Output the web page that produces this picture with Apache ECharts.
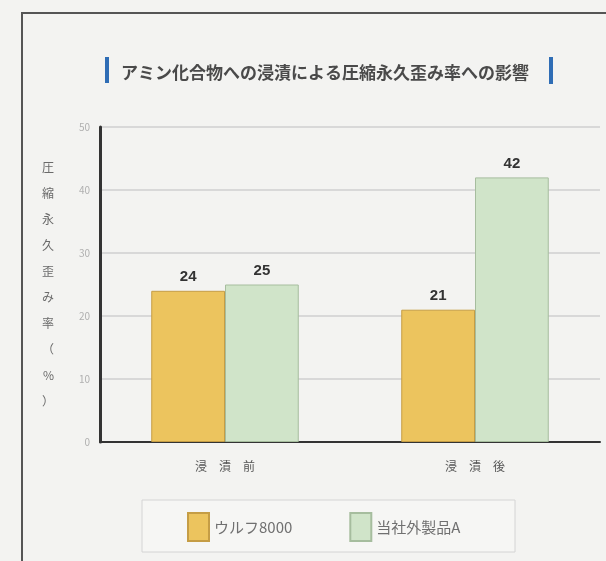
<!DOCTYPE html>
<html><head><meta charset="utf-8">
<script src="https://cdn.jsdelivr.net/npm/echarts@6/dist/echarts.min.js"></script>
<style>html,body{margin:0;padding:0;background:#f3f3f1;}#c{width:606px;height:561px;}</style>
</head><body><div id="c"></div>
<script>
const categories = ['浸　漬　前', '浸　漬　後'];
const seriesNames = ['ウルフ8000', '当社外製品A'];
const wolfValues = [24, 21];
const otherValues = [25, 42];
const yTicks = [0, 10, 20, 30, 40, 50];
const titleText = 'アミン化合物への浸漬による圧縮永久歪み率への影響';
const yName = '圧縮永久歪み率（%）';

const chart = echarts.init(document.getElementById('c'));
const font = '"Noto Sans CJK JP", sans-serif';
chart.setOption({
  backgroundColor: '#f3f3f1',
  animation: false,
  title: {
    text: titleText, top: 59, left: 116,
    textStyle: { fontFamily: font, fontSize: 17, fontWeight: 'bold', color: '#4a4a4a' }
  },
  graphic: [
    { type: 'rect', shape: { x: 22, y: 13, width: 600, height: 600 }, style: { fill: 'none', stroke: '#555', lineWidth: 2 } },
    { type: 'rect', shape: { x: 105, y: 57, width: 4, height: 26 }, style: { fill: '#2f6db5' } },
    { type: 'rect', shape: { x: 549, y: 57, width: 4, height: 27 }, style: { fill: '#2f6db5' } },
    { type: 'rect', shape: { x: 142, y: 500, width: 373, height: 52 }, style: { fill: '#f6f6f4', stroke: '#d4d4d4', lineWidth: 1 } }
  ],
  grid: { left: 100, right: 6, top: 127, bottom: 119 },
  legend: {
    data: seriesNames, top: 512, left: 187, itemWidth: 21, itemHeight: 28, itemGap: 57, padding: 0,
    icon: 'rect',
    textStyle: { fontFamily: font, fontSize: 15, color: '#707070' }
  },
  xAxis: {
    type: 'category', data: categories,
    axisLine: { lineStyle: { color: '#333', width: 2 } },
    axisTick: { show: false },
    axisLabel: { margin: 18, fontFamily: font, fontSize: 12, color: '#555' }
  },
  yAxis: {
    type: 'value', min: yTicks[0], max: yTicks[yTicks.length - 1], interval: 10,
    name: yName.split('').join('\n'), nameLocation: 'middle', nameRotate: 0, nameGap: 46,
    nameTextStyle: { fontFamily: font, fontSize: 12, color: '#6a6a6a', lineHeight: 26 },
    axisLine: { show: true, lineStyle: { color: '#333', width: 3 } },
    axisTick: { show: false },
    axisLabel: { margin: 10, fontFamily: font, fontSize: 10, color: '#b0b0b0' },
    splitLine: { lineStyle: { color: '#cfcfcf', width: 1.5 } }
  },
  series: [
    { name: seriesNames[0], type: 'bar', data: wolfValues, barGap: '0%', barCategoryGap: '41%',
      itemStyle: { color: '#ecc45e', borderColor: '#c59d45', borderWidth: 1 },
      label: { show: true, position: 'top', distance: 6, fontFamily: 'Liberation Sans, Arial', fontSize: 15, fontWeight: 'bold', color: '#333' } },
    { name: seriesNames[1], type: 'bar', data: otherValues,
      itemStyle: { color: '#d0e4c9', borderColor: '#a6bd9e', borderWidth: 1 },
      label: { show: true, position: 'top', distance: 6, fontFamily: 'Liberation Sans, Arial', fontSize: 15, fontWeight: 'bold', color: '#333' } }
  ]
});
</script></body></html>
